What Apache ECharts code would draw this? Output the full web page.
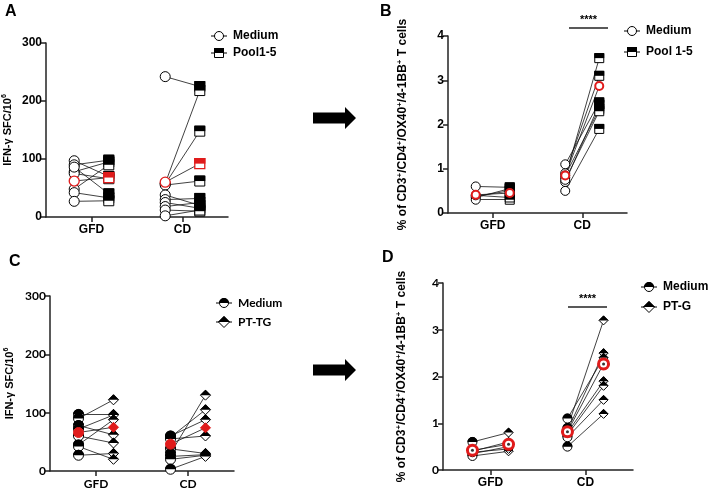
<!DOCTYPE html>
<html>
<head>
<meta charset="utf-8">
<title>paired plots</title>
<script src="https://cdn.jsdelivr.net/npm/echarts@6/dist/echarts.min.js"></script>
<style>
html, body { margin: 0; padding: 0; background: #fff; }
#main { width: 709px; height: 495px; }
</style>
</head>
<body>
<div id="main"></div>
<script>
var categories = ['GFD', 'CD'];
var catX = [1, 3];
var off = 0.38;

// A: IFN-g SFC/10^6, Medium vs Pool1-5
var aGfdMedium = [97, 90, 78, 75, 48, 42, 27, 86];
var aGfdPool   = [70, 98, 95, 66, 90, 33, 28, 40];
var aCdMedium  = [242, 58, 57, 55, 38, 30, 25, 18, 12, 2];
var aCdPool    = [225, 218, 148, 62, 20, 32, 15, 25, 10, 12];
var aMeanMedium = [62, 60];
var aMeanPool   = [68, 92];

// B: % of CD3+/CD4+/OX40+/4-1BB+, Medium vs Pool 1-5
var bGfdMedium = [0.6, 0.38, 0.35, 0.3, 0.4];
var bGfdPool   = [0.58, 0.5, 0.55, 0.3, 0.35];
var bCdMedium  = [0.8, 0.9, 1.1, 0.7, 0.85, 0.5, 0.75];
var bCdPool    = [3.5, 3.1, 2.5, 2.45, 2.35, 1.9, 2.3];
var bMeanMedium = [0.41, 0.85];
var bMeanPool   = [0.45, 2.87];

// C: IFN-g SFC/10^6, Medium vs PT-TG
var cGfdMedium = [97, 90, 78, 72, 45, 60, 42, 27];
var cGfdPool   = [97, 122, 62, 96, 88, 48, 20, 30];
var cCdMedium  = [30, 58, 60, 55, 38, 25, 20, 3];
var cCdPool    = [130, 105, 88, 60, 30, 28, 27, 25];
var cMeanMedium = [66, 46];
var cMeanPool   = [75, 74];

// D: % of CD3+/CD4+/OX40+/4-1BB+, Medium vs PT-G
var dGfdMedium = [0.6, 0.4, 0.35, 0.3, 0.38];
var dGfdPool   = [0.8, 0.6, 0.5, 0.4, 0.45];
var dCdMedium  = [0.9, 0.85, 1.1, 0.8, 0.75, 0.7, 0.5];
var dCdPool    = [3.2, 2.5, 2.4, 1.9, 1.8, 1.5, 1.2];
var dMeanMedium = [0.42, 0.82];
var dMeanPool   = [0.55, 2.27];

var yTicksIfn = [0, 300, 100];
var yTicksPct = [0, 4, 1];

var ARIAL = 'Liberation Sans, Arial, sans-serif';
var CALI = 'Lato, Liberation Sans, sans-serif';
var RED = '#e01b1b';

var shapes = {
  circle:  { base: 'circle',  half: 'path://M0,5A5,5,0,0,1,10,5Z' },
  square:  { base: 'rect',    half: 'path://M0,0H10V5H0Z' },
  diamond: { base: 'diamond', half: 'path://M0,5L5,0L10,5Z' }
};

var myChart = echarts.init(document.getElementById('main'));

var grids = [
  { left: 45,  top: 43,  width: 183, height: 174 },
  { left: 448, top: 36,  width: 179, height: 177 },
  { left: 50,  top: 296, width: 184, height: 175 },
  { left: 443, top: 283, width: 190, height: 187 }
];

function xAxis(p, font) {
  return {
    gridIndex: p, type: 'value', min: 0, max: 4,
    axisLine: { show: true, onZero: false, lineStyle: { color: '#222', width: 1.5 } },
    axisTick: { show: true, customValues: catX, length: 5, lineStyle: { color: '#222', width: 1.5 } },
    axisLabel: { customValues: catX, color: '#000', fontWeight: 'bold', fontSize: 12, fontFamily: font, margin: 7,
      formatter: function (v) { return categories[catX.indexOf(v)] || ''; } },
    splitLine: { show: false }
  };
}

function yAxis(p, ticks, name, gap, font, nameSize) {
  return {
    gridIndex: p, type: 'value', min: ticks[0], max: ticks[1], interval: ticks[2],
    axisLine: { show: true, lineStyle: { color: '#222', width: 1.5 } },
    axisTick: { show: true, length: 5, lineStyle: { color: '#222', width: 1.5 } },
    axisLabel: { color: '#000', fontWeight: 'bold', fontSize: 12, fontFamily: font, margin: 4 },
    splitLine: { show: false },
    name: name, nameLocation: 'middle', nameGap: gap,
    nameTextStyle: { color: '#000', fontWeight: 'bold', fontSize: nameSize, fontFamily: ARIAL,
      rich: { sup: { fontSize: nameSize - 4, fontWeight: 'bold', fontFamily: ARIAL, color: '#000', verticalAlign: 'top', padding: [0, 0, 6, 0] } } }
  };
}

function pts(gfd, cd, side) {
  var a = gfd.map(function (v) { return [catX[0] + side * off, v]; });
  return a.concat(cd.map(function (v) { return [catX[1] + side * off, v]; }));
}

function marker(p, data, shape, size, fill, stroke, bw, halfFill, z) {
  var out = [{
    type: 'scatter', xAxisIndex: p, yAxisIndex: p, data: data, z: z, silent: true,
    symbol: shapes[shape].base, symbolSize: size,
    itemStyle: { color: fill, borderColor: stroke, borderWidth: bw, opacity: 1 }
  }];
  if (halfFill) {
    var s = size + bw;
    out.push({
      type: 'scatter', xAxisIndex: p, yAxisIndex: p, data: data, z: z + 1, silent: true,
      symbol: shapes[shape].half, symbolSize: [s, s / 2], symbolOffset: [0, -s / 4],
      itemStyle: { color: halfFill, opacity: 1 }
    });
  }
  return out;
}

function panel(p, d, st) {
  var med = pts(d.gm, d.cm, -1), pool = pts(d.gp, d.cp, 1);
  var medMean = pts([d.mm[0]], [d.mm[1]], -1), poolMean = pts([d.mp[0]], [d.mp[1]], 1);
  var links = [];
  for (var i = 0; i < med.length; i++) links.push({ coords: [med[i], pool[i]] });
  links.push({ coords: [medMean[0], poolMean[0]] }, { coords: [medMean[1], poolMean[1]] });
  var s = [{
    type: 'lines', coordinateSystem: 'cartesian2d', xAxisIndex: p, yAxisIndex: p, z: 2, silent: true,
    data: links, lineStyle: { color: '#111', width: 0.8, opacity: 1 }
  }];
  s = s.concat(marker(p, med, st.medShape, st.size, '#fff', '#000', 1, st.medHalf, 3));
  s = s.concat(marker(p, pool, st.poolShape, st.size, '#fff', '#000', 1, st.poolHalf, 3));
  s = s.concat(marker(p, medMean, st.red.medShape, st.red.size, st.red.fill, RED, st.red.bw, st.red.medHalf, 6));
  s = s.concat(marker(p, poolMean, st.red.poolShape, st.red.size, st.red.fill, RED, st.red.bw, st.red.poolHalf, 6));
  if (st.red.dot) {
    s.push({ type: 'scatter', xAxisIndex: p, yAxisIndex: p, data: medMean.concat(poolMean), z: 8, silent: true,
      symbol: 'circle', symbolSize: 3, itemStyle: { color: '#000' } });
  }
  return s;
}

var series = [];
series = series.concat(panel(0, { gm: aGfdMedium, gp: aGfdPool, cm: aCdMedium, cp: aCdPool, mm: aMeanMedium, mp: aMeanPool },
  { medShape: 'circle', poolShape: 'square', size: 10, medHalf: null, poolHalf: '#000',
    red: { medShape: 'circle', poolShape: 'square', size: 10, fill: '#fff', bw: 1.3, medHalf: null, poolHalf: RED } }));
series = series.concat(panel(1, { gm: bGfdMedium, gp: bGfdPool, cm: bCdMedium, cp: bCdPool, mm: bMeanMedium, mp: bMeanPool },
  { medShape: 'circle', poolShape: 'square', size: 9, medHalf: null, poolHalf: '#000',
    red: { medShape: 'circle', poolShape: 'circle', size: 8, fill: '#fff', bw: 2, medHalf: null, poolHalf: null } }));
series = series.concat(panel(2, { gm: cGfdMedium, gp: cGfdPool, cm: cCdMedium, cp: cCdPool, mm: cMeanMedium, mp: cMeanPool },
  { medShape: 'circle', poolShape: 'diamond', size: 10, medHalf: '#000', poolHalf: '#000',
    red: { medShape: 'circle', poolShape: 'diamond', size: 10, fill: RED, bw: 1, medHalf: null, poolHalf: null } }));
series = series.concat(panel(3, { gm: dGfdMedium, gp: dGfdPool, cm: dCdMedium, cp: dCdPool, mm: dMeanMedium, mp: dMeanPool },
  { medShape: 'circle', poolShape: 'diamond', size: 9, medHalf: '#000', poolHalf: '#000',
    red: { medShape: 'circle', poolShape: 'circle', size: 10, fill: '#fff', bw: 3, medHalf: null, poolHalf: null, dot: true } }));

// legend drawn as graphics: a short line through the marker, then bold text
function legendItem(x, y, shape, half, label, font) {
  var r = 4.5, kids = [
    { type: 'line', shape: { x1: x - 8, y1: y, x2: x + 8, y2: y }, style: { stroke: '#000', lineWidth: 1 } }
  ];
  if (shape === 'circle') {
    kids.push({ type: 'circle', shape: { cx: x, cy: y, r: r }, style: { fill: '#fff', stroke: '#000', lineWidth: 1 } });
    if (half) kids.push({ type: 'sector', shape: { cx: x, cy: y, r: r + 0.5, r0: 0, startAngle: Math.PI, endAngle: 2 * Math.PI }, style: { fill: '#000' } });
  } else if (shape === 'square') {
    kids.push({ type: 'rect', shape: { x: x - r, y: y - r, width: 2 * r, height: 2 * r }, style: { fill: '#fff', stroke: '#000', lineWidth: 1 } });
    kids.push({ type: 'rect', shape: { x: x - r - 0.5, y: y - r - 0.5, width: 2 * r + 1, height: r + 0.5 }, style: { fill: '#000' } });
  } else {
    kids.push({ type: 'polygon', shape: { points: [[x - r - 1, y], [x, y - r - 1], [x + r + 1, y], [x, y + r + 1]] }, style: { fill: '#fff', stroke: '#000', lineWidth: 1 } });
    kids.push({ type: 'polygon', shape: { points: [[x - r - 1.5, y], [x, y - r - 1.5], [x + r + 1.5, y]] }, style: { fill: '#000' } });
  }
  kids.push({ type: 'text', x: x + 14, y: y, style: { text: label, fill: '#000', font: 'bold 12px ' + font, textVerticalAlign: 'middle' } });
  return { type: 'group', children: kids };
}

function arrow(x, y) {
  return { type: 'polygon', shape: { points: [[x, y - 5.5], [x + 32, y - 5.5], [x + 32, y - 11], [x + 43, y], [x + 32, y + 11], [x + 32, y + 5.5], [x, y + 5.5]] }, style: { fill: '#000' } };
}

function stars(x1, x2, y) {
  return { type: 'group', children: [
    { type: 'line', shape: { x1: x1, y1: y, x2: x2, y2: y }, style: { stroke: '#222', lineWidth: 1.3 } },
    { type: 'text', x: (x1 + x2) / 2, y: y - 3, style: { text: '****', fill: '#000', font: 'bold 11px ' + ARIAL, textAlign: 'center', textVerticalAlign: 'bottom' } }
  ] };
}

function letter(x, y, t) {
  return { type: 'text', x: x, y: y, style: { text: t, fill: '#000', font: 'bold 16px ' + ARIAL, textVerticalAlign: 'middle' } };
}

var graphics = [
  letter(5, 12, 'A'), letter(380, 12, 'B'), letter(9, 262, 'C'), letter(382, 258, 'D'),
  arrow(313, 118), arrow(313, 370),
  legendItem(219, 36, 'circle', false, 'Medium', ARIAL),
  legendItem(219, 53, 'square', true, 'Pool1-5', ARIAL),
  legendItem(632, 31, 'circle', false, 'Medium', ARIAL),
  legendItem(632, 52, 'square', true, 'Pool 1-5', ARIAL),
  legendItem(224, 303, 'circle', true, 'Medium', CALI),
  legendItem(224, 322, 'diamond', true, 'PT-TG', CALI),
  legendItem(649, 287, 'circle', true, 'Medium', ARIAL),
  legendItem(649, 307, 'diamond', true, 'PT-G', ARIAL),
  stars(569, 608, 28), stars(568, 607, 307)
];

var pctName = '% of CD3{sup|+}/CD4{sup|+}/OX40{sup|+}/4-1BB{sup|+} T cells';
var ifnName = 'IFN-\u03b3 SFC/10{sup|6}';

myChart.setOption({
  animation: false,
  grid: grids,
  xAxis: [xAxis(0, ARIAL), xAxis(1, ARIAL), xAxis(2, CALI), xAxis(3, ARIAL)],
  yAxis: [
    yAxis(0, yTicksIfn, ifnName, 32, ARIAL, 11),
    yAxis(1, yTicksPct, pctName, 38, ARIAL, 12),
    yAxis(2, yTicksIfn, ifnName, 34, CALI, 11),
    yAxis(3, yTicksPct, pctName, 34, CALI, 12)
  ],
  series: series,
  graphic: graphics
});
</script>
</body>
</html>
